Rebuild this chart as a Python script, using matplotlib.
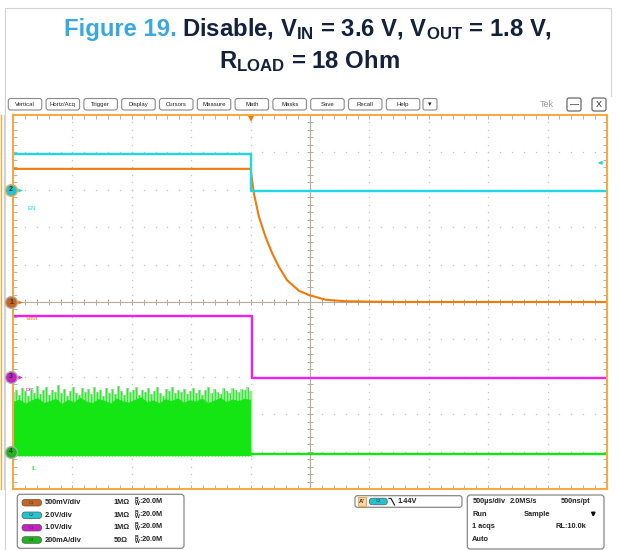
import numpy as np
import matplotlib
matplotlib.use("Agg")
import matplotlib.pyplot as plt
from matplotlib.patches import FancyBboxPatch, Rectangle
from matplotlib.ticker import MultipleLocator
import matplotlib.transforms as mtransforms

# ---------------- data ----------------
t_left_ms, t_right_ms = -2.0, 3.0          # 500 us/div, trigger 1 div left of centre
ch_ids = ["C1", "C2", "C3", "C4"]
ch_labels = ["Vout", "EN", "PG", "IL"]
ch_scale_text = ["500mV/div", "2.0V/div", "1.0V/div", "200mA/div"]
ch_impedance = ["1M\u03a9", "1M\u03a9", "1M\u03a9", "50\u03a9"]
ch_bw = ":20.0M"
ch_per_div = [0.5, 2.0, 1.0, 200.0]        # units per division
ch_offset_div = [0, 3, -2, -4]             # ground marker position (div)

# C2 EN (V)
en_t = [-2.0, 0.0, 0.0, 3.0]
en_v = [1.92, 1.92, -0.06, -0.06]
# C1 VOUT (V)
vout_t = [-2.0, 0.0, 0.028, 0.070, 0.126, 0.182, 0.238, 0.308, 0.407, 0.497, 0.631, 0.80, 1.2, 3.0]
vout_v = [1.78, 1.78, 1.45, 1.14, 0.87, 0.65, 0.47, 0.29, 0.15, 0.09, 0.03, 0.01, 0.0, 0.0]
# C3 PG (V)
pg_t = [-2.0, 0.01, 0.01, 3.0]
pg_v = [1.62, 1.62, -0.04, -0.04]
# C4 IL (mA): switching envelope before disable, then zero
il_peak_ma = [318, 332, 305, 341, 322, 298, 336, 314, 350, 309, 327, 344, 301, 330, 318, 356,
              312, 337, 296, 325, 348, 315, 303, 339, 321, 333, 307, 345, 319, 328, 299, 341,
              316, 334, 310, 352, 323, 305, 338, 317, 329, 346, 302, 331, 320, 340, 308, 326,
              343, 314, 300, 335, 322, 347, 311, 329, 318, 337, 306, 324, 341, 316, 332, 304,
              327, 344, 313, 336, 321, 309, 338, 326, 315, 342, 330, 319, 335, 328, 345, 322]
il_core_ma = [268, 281, 259, 276, 289, 263, 272, 285, 258, 279, 266, 291, 270, 262, 283, 274,
              260, 287, 271, 265, 280, 293, 267, 276, 261, 284, 272, 288, 264, 278, 270, 286,
              262, 275, 290, 268, 281, 273, 285, 279]
il_floor_ma = -22
il_after_t = [0.01, 3.0]
il_after_ma = [-12, -12]
trig_level_v = 1.44

# ---------------- styles ----------------
W, H = 618, 550
plt.rcParams['font.family'] = ['Liberation Sans', 'DejaVu Sans']
plt.rcParams['mathtext.fontset'] = 'custom'
plt.rcParams['mathtext.rm'] = 'Liberation Sans:bold'
plt.rcParams['mathtext.it'] = 'Liberation Sans:bold'
plt.rcParams['mathtext.bf'] = 'Liberation Sans:bold'

col_orange = '#F07A0A'
col_cyan = '#1ED8E6'
col_mag = '#F01EF0'
col_green = '#14E614'
col_border = '#F5AA45'
ch_colors = [col_orange, col_cyan, col_mag, col_green]
pill_colors = ['#C8641E', '#23C3D2', '#C81EC8', '#1EB41E']

fig = plt.figure(figsize=(W / 100, H / 100), dpi=100)
bg = fig.add_axes([0, 0, 1, 1])
bg.set_xlim(0, W); bg.set_ylim(H, 0); bg.axis('off')

# page frame
bg.plot([5, 5, 611, 611], [550, 8, 8, 96], color='#d4d4d4', lw=0.8)
bg.plot([1.2, 1.2], [115, 489], color=col_border, lw=1.0)
bg.plot([3.5, 3.5], [115, 489], color='#c8c8c8', lw=0.6)

# ---------------- title ----------------
fig.canvas.draw()
r = fig.canvas.get_renderer()
fs_title = 17.2
t1 = bg.text(0, 0, "Figure 19.", color='#3AA8E0', fontsize=fs_title, fontweight='bold',
             va='baseline', ha='left')
t2 = bg.text(0, 0, r"Disable, $\mathrm{V_{IN}}$ = 3.6 V, $\mathrm{V_{OUT}}$ = 1.8 V,",
             color='#14213D', fontsize=fs_title, fontweight='bold', va='baseline', ha='left')
w1 = t1.get_window_extent(r).width
w2 = t2.get_window_extent(r).width
gap = 5
x0 = 308 - (w1 + gap + w2) / 2
t1.set_position((x0, 36)); t2.set_position((x0 + w1 + gap, 36))
bg.text(309, 68, r"$\mathrm{R_{LOAD}}$ = 18 Ohm", color='#14213D', fontsize=fs_title,
        fontweight='bold', va='baseline', ha='center')

# ---------------- toolbar ----------------
buttons = ["Vertical", "Horiz/Acq", "Trigger", "Display", "Cursors", "Measure", "Math",
           "Masks", "Save", "Recall", "Help"]
bx = 7.3
for name in buttons:
    bg.add_patch(FancyBboxPatch((bx + 1, 98.5), 33.5, 11.5, boxstyle="round,pad=0,rounding_size=2.5",
                                fc='white', ec='#8a8a8a', lw=0.8))
    bg.text(bx + 17.8, 104.5, name, fontsize=4.3, ha='center', va='center', color='#222222')
    bx += 37.8
bg.add_patch(FancyBboxPatch((423, 98.5), 14, 11.5, boxstyle="round,pad=0,rounding_size=2",
                            fc='white', ec='#8a8a8a', lw=0.8))
bg.text(430, 104.5, "\u25BE", fontsize=5, ha='center', va='center', color='#222222',
        family='DejaVu Sans')
bg.text(547, 104.5, "Tek", fontsize=6.5, ha='center', va='center', color='#9a9a9a')
for (xa, lab) in [(567, "\u2014"), (592, "X")]:
    bg.add_patch(FancyBboxPatch((xa, 98), 14, 13, boxstyle="round,pad=0,rounding_size=2",
                                fc='white', ec='#6a6a6a', lw=0.9))
    bg.text(xa + 7, 104.5, lab, fontsize=6.5, ha='center', va='center', color='#222222')

# ---------------- main scope axes ----------------
ax = fig.add_axes([13 / W, (H - 489) / H, 594 / W, 374 / H])
ax.set_facecolor('none')
ax.set_xlim(t_left_ms, t_right_ms)
ax.set_ylim(-5, 5)
for s in ax.spines.values():
    s.set_color(col_border); s.set_linewidth(1.5); s.set_zorder(6)
ax.xaxis.set_major_locator(MultipleLocator(0.5))
ax.xaxis.set_minor_locator(MultipleLocator(0.1))
ax.yaxis.set_major_locator(MultipleLocator(1))
ax.yaxis.set_minor_locator(MultipleLocator(0.2))
ax.tick_params(which='both', direction='in', top=True, right=True, length=3, width=0.6,
               color='#a8a8a8', labelleft=False, labelbottom=False)

# graticule dots
xdiv = np.arange(t_left_ms, t_right_ms + 1e-9, 0.5)
ydiv = np.arange(-5, 5.001, 1)
xc, yc = (t_left_ms + t_right_ms) / 2, 0
yfine = np.arange(-5, 5.001, 0.2)
xfine = np.arange(t_left_ms, t_right_ms + 1e-9, 0.1)
for xv in xdiv[1:-1]:
    if abs(xv - xc) > 1e-6:
        ax.plot(np.full_like(yfine, xv), yfine, ls='none', marker='s', ms=0.9, mew=0,
                color='#c4c4c4', zorder=1)
for yv in ydiv[1:-1]:
    if abs(yv - yc) > 1e-6:
        ax.plot(xfine, np.full_like(xfine, yv), ls='none', marker='s', ms=0.9, mew=0,
                color='#c4c4c4', zorder=1)
ax.axvline(xc, color='#b5aa9c', lw=0.8, zorder=1)
ax.axhline(yc, color='#b5aa9c', lw=0.8, zorder=1)
ax.plot(np.full_like(yfine, xc), yfine, ls='none', marker='_', ms=4, mew=0.7, color='#b5aa9c', zorder=1)
ax.plot(xfine, np.full_like(xfine, yc), ls='none', marker='|', ms=4, mew=0.7, color='#b5aa9c', zorder=1)


def to_div(vals, i):
    return np.asarray(vals, dtype=float) / ch_per_div[i] + ch_offset_div[i]


# channel labels (under traces)
lbl_px = {"Vout": (26, 318), "EN": (28, 209), "PG": (26, 391), "IL": (31, 469)}
for i, name in enumerate(ch_labels):
    xp, yp = lbl_px[name]
    bg.text(xp, yp, name, fontsize=4.5, color=ch_colors[i], ha='left', va='center')

# C4 IL switching band
il_t = np.linspace(t_left_ms, 0.0, len(il_peak_ma))
ax.fill_between(il_t, to_div([il_floor_ma] * len(il_t), 3), to_div(il_peak_ma, 3),
                step='mid', color='#9AF09A', lw=0, zorder=2)
ax.vlines(il_t, to_div(il_floor_ma, 3), to_div(il_peak_ma, 3), color='#3EE03E', lw=0.9, zorder=2)
core_t = np.linspace(t_left_ms, 0.0, len(il_core_ma))
ax.fill_between(core_t, to_div([il_floor_ma] * len(core_t), 3), to_div(il_core_ma, 3),
                color=col_green, lw=0, zorder=2)
ax.plot([0.0, 0.0], to_div([il_floor_ma, il_peak_ma[-1]], 3), color='#8BEE8B', lw=0.8, zorder=2)
ax.plot(il_after_t, to_div(il_after_ma, 3), color=col_green, lw=1.7, zorder=3)

# other traces
ax.plot(pg_t, to_div(pg_v, 2), color=col_mag, lw=1.7, zorder=3)
ax.plot(vout_t, to_div(vout_v, 0), color=col_orange, lw=1.5, zorder=4)
ax.plot(en_t, to_div(en_v, 1), color=col_cyan, lw=1.7, zorder=4)

# trigger position marker and level arrow
ax.plot([0.0], [4.88], marker='v', ms=5, color=col_orange, mew=0, clip_on=False, zorder=7)
ax.annotate("", xy=(t_right_ms - 0.1, to_div(trig_level_v, 1)),
            xytext=(t_right_ms - 0.01, to_div(trig_level_v, 1)),
            arrowprops=dict(arrowstyle='-|>', color=col_cyan, lw=0.8, mutation_scale=5), zorder=7)

# channel ground markers (left)
bt = mtransforms.blended_transform_factory(ax.transAxes, ax.transData)
mk_x = -2.0 / 594
ring = ['#aaaaaa', col_border, '#aaaaaa', '#aaaaaa']
for i in range(4):
    yv = ch_offset_div[i]
    ax.plot([mk_x + 4 / 594, mk_x + 9 / 594], [yv, yv], color=ch_colors[i], lw=0.8,
            transform=bt, clip_on=False, zorder=8)
    ax.plot([mk_x + 9 / 594], [yv], marker='>', ms=3, color=ch_colors[i], mew=0,
            transform=bt, clip_on=False, zorder=8)
    ax.plot([mk_x], [yv], marker='o', ms=8.5, mfc=pill_colors[i], mec=ring[i], mew=1.0,
            transform=bt, clip_on=False, zorder=9)
    ax.text(mk_x, yv, str(i + 1), fontsize=5, fontweight='bold', color='#303030',
            ha='center', va='center', transform=bt, zorder=10)

# ---------------- bottom info boxes ----------------
bg.add_patch(FancyBboxPatch((17.3, 494.3), 166.7, 54, boxstyle="round,pad=0,rounding_size=3",
                            fc='white', ec='#888888', lw=0.9))
rows_y = [502.7, 515.3, 527.7, 540.0]
for i in range(4):
    y = rows_y[i]
    bg.add_patch(FancyBboxPatch((22, y - 3.3), 19.5, 6.6, boxstyle="round,pad=0,rounding_size=3.2",
                                fc=pill_colors[i], ec='#555555', lw=0.5))
    bg.text(31.7, y, ch_ids[i], fontsize=3, color='#333333', ha='center', va='center')
    bg.text(44.3, y, ch_scale_text[i], fontsize=5.3, fontweight='bold', color='#222222',
            ha='left', va='center')
    bg.text(113.3, y, ch_impedance[i], fontsize=5.3, fontweight='bold', color='#222222',
            ha='left', va='center')
    bg.text(133.5, y, r"${}^{B}_{W}$" + ch_bw, fontsize=5.3, fontweight='bold',
            color='#222222', ha='left', va='center')

# trigger readout
bg.add_patch(FancyBboxPatch((355, 495.7), 107, 11.6, boxstyle="round,pad=0,rounding_size=2.5",
                            fc='white', ec='#888888', lw=0.9))
bg.add_patch(Rectangle((357.5, 497), 8, 8.8, fc='#F5D6A8', ec=col_border, lw=0.8))
bg.text(361.5, 501.5, "A'", fontsize=4.3, fontweight='bold', color='#333333', ha='center', va='center')
bg.add_patch(FancyBboxPatch((369.3, 498.2), 18, 6.6, boxstyle="round,pad=0,rounding_size=3.2",
                            fc=pill_colors[1], ec='#555555', lw=0.5))
bg.text(378.3, 501.5, "C2", fontsize=3, color='#333333', ha='center', va='center')
bg.plot([389, 391, 394.5], [498.5, 498.5, 505], color='#222222', lw=0.9)
bg.text(397, 501.5, "%.2fV" % trig_level_v, fontsize=5.3, fontweight='bold', color='#222222',
        ha='left', va='center')

# acquisition readout
bg.add_patch(FancyBboxPatch((467.3, 495), 136.7, 54, boxstyle="round,pad=0,rounding_size=3",
                            fc='white', ec='#888888', lw=0.9))
acq = [(472.3, 501.7, "500\u00b5s/div"), (510, 501.7, "2.0MS/s"), (560.7, 501.7, "500ns/pt"),
       (472.3, 515, "Run"), (523.3, 515, "Sample"),
       (472.3, 526.7, "1 acqs"), (555, 526.7, "RL:10.0k"),
       (472.3, 539.3, "Auto")]
for xa, ya, s in acq:
    bg.text(xa, ya, s, fontsize=5.3, fontweight='bold', color='#222222', ha='left', va='center')
bg.annotate("", xy=(593.3, 520), xytext=(593.3, 510),
            arrowprops=dict(arrowstyle='-|>', color='#111111', lw=1.3, mutation_scale=5))

fig.savefig("out.png", dpi=100, facecolor='white')
